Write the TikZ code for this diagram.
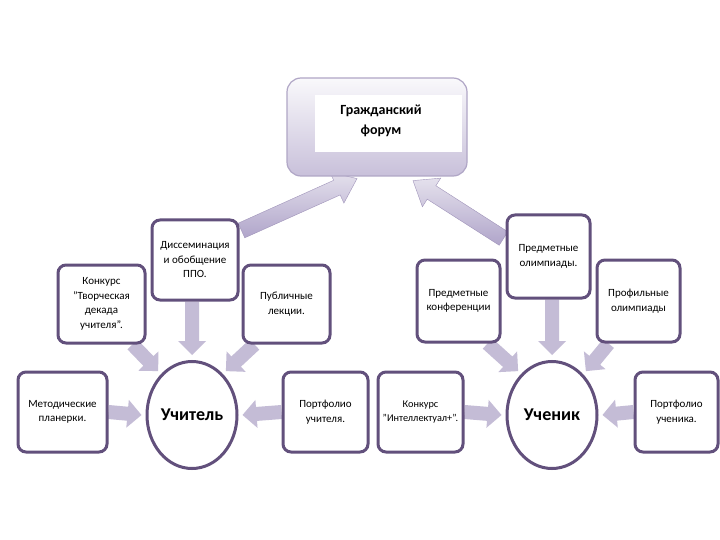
\documentclass[tikz,border=0pt]{standalone}
\usepackage{fontspec}
\setmainfont{Carlito}
\usetikzlibrary{calc,shapes.geometric}
\pgfdeclarelayer{canvas}
\pgfdeclarelayer{background}
\pgfsetlayers{canvas,background,main}
\definecolor{bord}{RGB}{98,80,124}
\definecolor{lav}{RGB}{196,188,214}
\definecolor{lavd}{RGB}{176,165,202}
\definecolor{forumb}{RGB}{176,166,198}
\definecolor{forumf}{RGB}{200,192,218}
\newcommand\blkarrow[6]{%
  \coordinate (ba) at #2;
  \coordinate (bb) at #3;
  \coordinate (bh) at ($(bb)!#6!(ba)$);
  \path[#1] ($(ba)!#4!90:(bb)$) -- ($(bh)!#4!90:(bb)$) -- ($(bh)!#5!90:(bb)$) -- (bb)
     -- ($(bh)!#5!-90:(bb)$) -- ($(bh)!#4!-90:(bb)$) -- ($(ba)!#4!-90:(bb)$) -- cycle;
}
\tikzset{
  box/.style={draw=bord, line width=3pt, rounded corners=8pt, fill=white, inner sep=0pt,
    align=center, font=\fontsize{11}{14.5}\selectfont},
  oval/.style={ellipse, draw=bord, line width=3pt, fill=white, inner sep=0pt,
    minimum width=90pt, minimum height=107pt, font=\bfseries\fontsize{18}{20}\selectfont},
  smallarr/.style={fill=lav},
  bigarr/.style={top color=white!55!lav, bottom color=lavd, draw=lavd!80!bord, line width=0.4pt}
}
\begin{document}
\begin{tikzpicture}[x=1pt,y=-1pt]
\begin{pgfonlayer}{canvas}
\fill[white] (0,0) rectangle (720,540);
\end{pgfonlayer}
\useasboundingbox (0,0) rectangle (720,540);

% forum
\node[draw=forumb, line width=1.2pt, rounded corners=14pt, top color=white!90!forumf, bottom color=forumf,
  minimum width=180pt, minimum height=98pt, inner sep=0pt] (forum) at (377,127) {};
\node[fill=white, minimum width=147pt, minimum height=57pt, inner sep=0pt] (forumr) at (388.5,123.5) {};
\node[align=center, inner sep=0pt, font=\bfseries\fontsize{14}{20}\selectfont] (forumt) at (381,121) {Гражданский\\форум};

% ---------- left cluster nodes ----------
\node[oval] (uch) at (192,415) {Учитель};
\node[box, minimum width=86pt, minimum height=80pt] (dis) at (195,260) {Диссеминация\\и обобщение\\ППО.};
\node[box, minimum width=87pt, minimum height=78pt] (kon) at (101.5,304) {Конкурс\\"Творческая\\декада\\учителя".};
\node[box, minimum width=87pt, minimum height=78pt] (pub) at (286.5,304) {Публичные\\лекции.};
\node[box, minimum width=89pt, minimum height=80pt] (met) at (62.5,412) {Методические\\планерки.};
\node[box, minimum width=85pt, minimum height=80pt] (ptu) at (325.5,412) {Портфолио\\учителя.};

% ---------- right cluster nodes ----------
\node[oval] (ucn) at (552,415) {Ученик};
\node[box, minimum width=83pt, minimum height=83pt] (olm) at (548.5,256.5) {Предметные\\олимпиады.};
\node[box, minimum width=83pt, minimum height=82pt] (cnf) at (458.5,301) {Предметные\\конференции};
\node[box, minimum width=83pt, minimum height=82pt] (prf) at (638.5,301) {Профильные\\олимпиады};
\node[box, minimum width=85pt, minimum height=80pt, font=\fontsize{10.3}{14.5}\selectfont] (int) at (420.5,412) {Конкурс\\"Интеллектуал+".};
\node[box, minimum width=83pt, minimum height=80pt] (ptc) at (676.5,412) {Портфолио\\ученика.};

% ---------- arrows (behind the boxes) ----------
\begin{pgfonlayer}{background}
  % big arrows to the forum
  \blkarrow{bigarr}{($(dis.north east)+(2,12)$)}{($(forum.south)+(-20,2)$)}{8pt}{17pt}{22pt}
  \blkarrow{bigarr}{($(olm.north west)+(-2,25)$)}{($(forum.south)+(36,4)$)}{8pt}{17pt}{22pt}
  % teacher
  \blkarrow{smallarr}{(met.east)}{($(uch.west)+(-4,0)$)}{7pt}{14pt}{14pt}
  \blkarrow{smallarr}{(ptu.west)}{($(uch.east)+(4,0)$)}{7pt}{14pt}{14pt}
  \blkarrow{smallarr}{(uch.north |- dis.south)}{($(uch.north)+(0,-5)$)}{7pt}{14pt}{14pt}
  \blkarrow{smallarr}{($(kon.south east)+(-14,0)$)}{($(uch.north west)+(-1,-5)$)}{7pt}{14pt}{14pt}
  \blkarrow{smallarr}{($(pub.south west)+(13,0)$)}{($(uch.north east)+(1,-5)$)}{7pt}{14pt}{14pt}
  % pupil
  \blkarrow{smallarr}{(int.east)}{($(ucn.west)+(-4,0)$)}{7pt}{14pt}{14pt}
  \blkarrow{smallarr}{(ptc.west)}{($(ucn.east)+(4,0)$)}{7pt}{14pt}{14pt}
  \blkarrow{smallarr}{(ucn.north |- olm.south)}{($(ucn.north)+(0,-5)$)}{7pt}{14pt}{14pt}
  \blkarrow{smallarr}{($(cnf.south east)+(-14,0)$)}{($(ucn.north west)+(-1,-5)$)}{7pt}{14pt}{14pt}
  \blkarrow{smallarr}{($(prf.south west)+(13,0)$)}{($(ucn.north east)+(1,-5)$)}{7pt}{14pt}{14pt}
\end{pgfonlayer}
\end{tikzpicture}
\end{document}
